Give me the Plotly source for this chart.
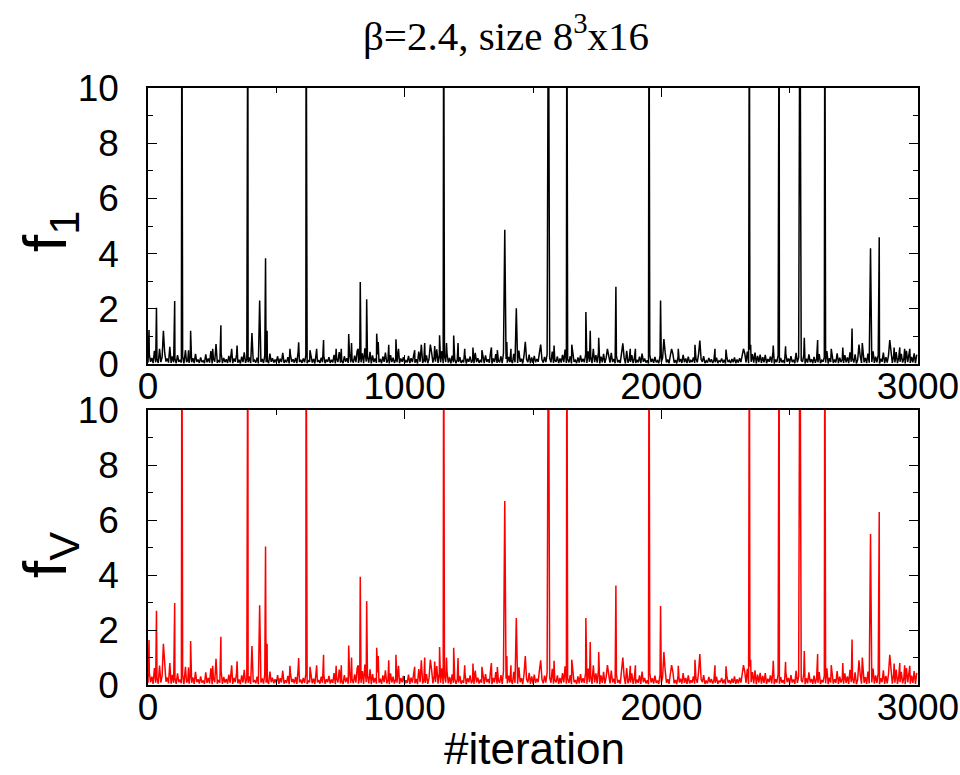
import plotly.graph_objects as go

# ---------------- data ----------------
STEP = 5  # background samples every 5 iterations

f1_background = [
    .05,.35,.08,.22,.03,.48,.06,.18,.04,.55,.07,.25,.03,.41,.09,.2,.05,.62,.04,.28,
    .06,.19,.03,.32,.08,.15,.05,.27,.02,.44,.07,.13,.04,.3,.06,.21,.03,.37,.08,.16,
    .04,.24,.07,.12,.03,.35,.06,.2,.05,.47,.02,.18,.08,.26,.04,.14,.06,.39,.03,.22,
    .07,.17,.04,.29,.06,.51,.03,.2,.08,.33,.05,.15,.02,.27,.07,.42,.04,.19,.06,.24,
    .03,.36,.08,.14,.05,.23,.02,.45,.07,.18,.04,.3,.06,.12,.03,.38,.08,.21,.05,.16,
    .06,.28,.03,.19,.07,.4,.04,.13,.06,.25,.02,.34,.08,.17,.05,.22,.03,.46,.07,.15,
    .04,.2,.06,.31,.03,.12,.08,.26,.05,.18,.02,.37,.07,.14,.04,.23,.06,.29,.03,.16,
    .08,.25,.04,.15,.06,.33,.02,.19,.07,.43,.05,.12,.03,.28,.08,.21,.04,.36,.06,.17,
    .05,.3,.07,.48,.04,.22,.06,.39,.03,.57,.08,.26,.05,.44,.02,.31,.07,.2,.04,.35,
    .06,.18,.03,.27,.08,.41,.05,.14,.02,.32,.07,.23,.04,.16,.06,.38,.03,.2,.08,.25,
    .04,.13,.06,.29,.03,.21,.07,.36,.05,.17,.02,.45,.08,.24,.04,.15,.06,.31,.03,.19,
    .07,.42,.05,.26,.08,.53,.04,.34,.06,.47,.03,.28,.07,.38,.05,.22,.02,.3,.06,.18,
    .03,.16,.07,.25,.04,.12,.06,.33,.02,.19,.08,.27,.05,.14,.03,.4,.07,.21,.04,.15,
    .06,.23,.03,.31,.08,.17,.05,.44,.02,.2,.07,.36,.04,.13,.06,.28,.03,.39,.08,.18,
    .05,.26,.07,.14,.03,.37,.06,.22,.04,.49,.08,.19,.02,.3,.05,.16,.07,.34,.03,.24,
    .04,.29,.06,.18,.08,.41,.03,.15,.05,.26,.07,.35,.02,.2,.06,.45,.04,.13,.08,.27,
    .03,.2,.05,.33,.07,.52,.04,.17,.06,.28,.02,.38,.08,.14,.03,.24,.05,.31,.07,.19,
    .06,.35,.04,.46,.08,.25,.03,.55,.07,.32,.05,.43,.02,.27,.06,.37,.04,.22,.08,.3,
    .05,.4,.07,.18,.03,.29,.06,.14,.04,.36,.08,.23,.02,.48,.05,.17,.07,.32,.03,.21,
    .04,.15,.06,.27,.03,.38,.08,.2,.05,.13,.02,.34,.07,.19,.04,.26,.06,.12,.03,.3,
    .07,.22,.04,.41,.06,.16,.03,.3,.08,.37,.05,.14,.02,.25,.07,.18,.04,.33,.06,.2,
    .03,.27,.05,.13,.07,.24,.04,.19,.06,.35,.02,.16,.08,.28,.03,.12,.05,.22,.07,.17,
    .04,.14,.06,.23,.03,.12,.08,.2,.05,.15,.02,.26,.07,.13,.04,.18,.06,.24,.03,.16,
    .05,.21,.07,.3,.04,.38,.06,.45,.03,.52,.08,.36,.05,.41,.02,.29,.07,.34,.04,.25,
    .06,.33,.03,.18,.08,.27,.05,.44,.02,.16,.07,.31,.04,.22,.06,.14,.03,.37,.08,.2,
    .05,.28,.07,.15,.03,.4,.06,.24,.04,.13,.08,.32,.02,.19,.05,.35,.07,.17,.03,.26,
    .04,.19,.06,.36,.03,.14,.08,.25,.05,.47,.02,.21,.07,.3,.04,.16,.06,.39,.03,.23,
    .07,.17,.04,.32,.06,.24,.03,.42,.08,.2,.05,.35,.02,.15,.07,.28,.04,.5,.06,.22,
    .03,.38,.05,.21,.07,.46,.04,.27,.06,.33,.02,.19,.08,.41,.03,.25,.05,.3,.07,.44,
    .04,.29,.06,.43,.03,.24,.08,.37,.05,.2,.02,.48,.07,.31,.04,.26,.06,.39,.03,.34,
]

fV_background = [
    .07,.46,.1,.3,.04,.62,.08,.24,.05,.71,.09,.33,.04,.53,.12,.27,.06,.8,.05,.37,
    .08,.25,.04,.42,.1,.2,.06,.35,.03,.57,.09,.17,.05,.39,.08,.28,.04,.48,.1,.21,
    .05,.31,.09,.16,.04,.46,.08,.26,.06,.61,.03,.24,.1,.34,.05,.18,.08,.51,.04,.29,
    .09,.22,.05,.38,.08,.66,.04,.26,.1,.43,.06,.2,.03,.35,.09,.55,.05,.25,.08,.31,
    .04,.47,.1,.18,.06,.3,.03,.58,.09,.24,.05,.39,.08,.16,.04,.49,.1,.27,.06,.21,
    .08,.36,.04,.25,.09,.52,.05,.17,.08,.33,.03,.44,.1,.22,.06,.29,.04,.6,.09,.2,
    .05,.26,.08,.4,.04,.16,.1,.34,.06,.23,.03,.48,.09,.18,.05,.3,.08,.38,.04,.21,
    .1,.33,.05,.2,.08,.43,.03,.25,.09,.56,.06,.16,.04,.36,.1,.27,.05,.47,.08,.22,
    .06,.39,.09,.62,.05,.29,.08,.51,.04,.74,.1,.34,.06,.57,.03,.4,.09,.26,.05,.46,
    .08,.23,.04,.35,.1,.53,.06,.18,.03,.42,.09,.3,.05,.21,.08,.49,.04,.26,.1,.33,
    .05,.17,.08,.38,.04,.27,.09,.47,.06,.22,.03,.58,.1,.31,.05,.2,.08,.4,.04,.25,
    .09,.55,.06,.34,.1,.69,.05,.44,.08,.61,.04,.36,.09,.49,.06,.29,.03,.39,.08,.23,
    .04,.21,.09,.33,.05,.16,.08,.43,.03,.25,.1,.35,.06,.18,.04,.52,.09,.27,.05,.2,
    .08,.3,.04,.4,.1,.22,.06,.57,.03,.26,.09,.47,.05,.17,.08,.36,.04,.51,.1,.23,
    .06,.34,.09,.18,.04,.48,.08,.29,.05,.64,.1,.25,.03,.39,.06,.21,.09,.44,.04,.31,
    .05,.38,.08,.23,.1,.53,.04,.2,.06,.34,.09,.46,.03,.26,.08,.59,.05,.17,.1,.35,
    .04,.26,.06,.43,.09,.68,.05,.22,.08,.36,.03,.49,.1,.18,.04,.31,.06,.4,.09,.25,
    .08,.46,.05,.6,.1,.33,.04,.72,.09,.42,.06,.56,.03,.35,.08,.48,.05,.29,.1,.39,
    .06,.52,.09,.23,.04,.38,.08,.18,.05,.47,.1,.3,.03,.62,.06,.22,.09,.42,.04,.27,
    .05,.2,.08,.35,.04,.49,.1,.26,.06,.17,.03,.44,.09,.25,.05,.34,.08,.16,.04,.39,
    .09,.29,.05,.53,.08,.21,.04,.39,.1,.48,.06,.18,.03,.33,.09,.23,.05,.43,.08,.26,
    .04,.35,.06,.17,.09,.31,.05,.25,.08,.46,.03,.21,.1,.36,.04,.16,.06,.29,.09,.22,
    .05,.18,.08,.3,.04,.16,.1,.26,.06,.2,.03,.34,.09,.17,.05,.23,.08,.31,.04,.21,
    .06,.27,.09,.39,.05,.49,.08,.59,.04,.68,.1,.47,.06,.53,.03,.38,.09,.44,.05,.33,
    .08,.43,.04,.23,.1,.35,.06,.57,.03,.21,.09,.4,.05,.29,.08,.18,.04,.48,.1,.26,
    .06,.36,.09,.2,.04,.52,.08,.31,.05,.17,.1,.42,.03,.25,.06,.46,.09,.22,.04,.34,
    .05,.25,.08,.47,.04,.18,.1,.33,.06,.61,.03,.27,.09,.39,.05,.21,.08,.51,.04,.3,
    .09,.22,.05,.42,.08,.31,.04,.55,.1,.26,.06,.46,.03,.2,.09,.36,.05,.65,.08,.29,
    .04,.49,.06,.27,.09,.6,.05,.35,.08,.43,.03,.25,.1,.53,.04,.33,.06,.39,.09,.57,
    .05,.38,.08,.56,.04,.31,.1,.48,.06,.26,.03,.62,.09,.4,.05,.34,.08,.51,.04,.44,
]

# large spikes: iteration, f1 value, fV value (values above 10 run off the top)
spike_iter = [4, 33, 60, 104, 132, 166, 284, 389, 405, 435, 458, 464, 587, 616,
              684, 782, 827, 852, 891, 938, 966, 1136, 1152, 1191, 1390, 1435,
              1470, 1530, 1560, 1632, 1706, 1723, 1756, 1823, 1850, 1952, 1997,
              2010, 2150, 2343, 2459, 2540, 2557, 2609, 2637, 2707, 2743, 2770,
              2815, 2849, 2890]
spike_f1 = [1.23, 2.04, 1.2, 2.28, 15, 1.2, 1.4, 15, 1.12, 2.3, 3.83, 1.2, 0.79, 15,
            0.87, 1.09, 2.97, 2.35, 1.1, 0.7, 0.9, 1.04, 15, 1.03, 4.86, 2.02,
            0.8, 0.7, 15, 15, 1.88, 1.2, 0.95, 2.8, 0.75, 15, 2.3,
            0.9, 0.85, 15, 15, 15, 0.95, 0.87, 15, 0.6, 1.29, 0.7,
            4.19, 4.59, 0.87]
spike_fV = [1.64, 2.7, 1.5, 2.98, 15, 1.6, 1.75, 15, 1.42, 2.9, 5.04, 1.5, 0.98, 15,
            1.1, 1.44, 3.94, 3.05, 1.35, 0.9, 1.1, 1.38, 15, 1.35, 6.69, 2.44,
            1.05, 0.9, 15, 15, 2.44, 1.56, 1.2, 3.62, 1.0, 15, 2.87,
            1.2, 1.13, 15, 15, 15, 1.24, 1.13, 15, 0.8, 1.65, 0.9,
            5.49, 6.29, 1.1]

# smaller spikes standing out of the noise band
minor_iter = [146, 158, 252, 265, 326, 347, 553, 631, 657, 733, 753, 793, 819,
              897, 976, 1039, 1065, 1078, 1100, 1117, 1163, 1208, 1234, 1266,
              1301, 1338, 1361, 1398, 1414, 1582, 1651, 1790, 1879, 1899, 2040,
              2066, 2131, 2209, 2252, 2320, 2348, 2436, 2484, 2662, 2783, 2907,
              2929, 2948, 2968]
minor_f1 = [.5, .5, .55, .72, .55, .67, .55, .5, .55, .55, .55, .76, .55,
            .8, .55, .5, .7, .76, .7, .65, .76, .76, .55, .6,
            .5, .6, .5, .8, .55, .67, .7, .55, .55, .55, .55,
            .55, .7, .55, .52, .55, .7, .67, .64, .55, .76, .6,
            .6, .55, .55]
minor_fV = [.66, .64, .7, .95, .72, .86, .7, .66, .72, .7, .72, 1.0, .72,
            1.05, .7, .66, .9, 1.0, .92, .85, 1.0, .98, .72, .78,
            .66, .8, .65, 1.05, .72, .88, .92, .72, .7, .72, .72,
            .7, .92, .72, .68, .72, .92, .88, .84, .72, 1.0, .78,
            .8, .72, .7]

x_ticks = [0, 1000, 2000, 3000]
y_ticks = [0, 2, 4, 6, 8, 10]


def series(background, spikes, minors):
    pts = {i * STEP: v for i, v in enumerate(background)}
    for it, v in zip(minor_iter, minors):
        pts[it] = v
    for it, v in zip(spike_iter, spikes):
        pts[it] = v
    xs = sorted(pts)
    return xs, [pts[k] for k in xs]


x1, y1 = series(f1_background, spike_f1, minor_f1)
xv, yv = series(fV_background, spike_fV, minor_fV)

# ---------------- figure ----------------
W, H = 960, 775
fig = go.Figure()
fig.add_trace(go.Scatter(x=x1, y=y1, mode="lines", line=dict(color="black", width=1.5),
                         xaxis="x", yaxis="y", showlegend=False, hoverinfo="skip"))
fig.add_trace(go.Scatter(x=xv, y=yv, mode="lines", line=dict(color="#ff0000", width=1.5),
                         xaxis="x2", yaxis="y2", showlegend=False, hoverinfo="skip"))

xl, xr = 148 / W, 918 / W
tick_font = dict(family="Liberation Sans, Arial, sans-serif", size=37, color="black")


def xaxis_cfg(anchor):
    return dict(domain=[xl, xr], anchor=anchor, range=[0, 3000], tickvals=x_ticks,
                ticks="inside", ticklen=9, tickwidth=1.2, tickcolor="black",
                minor=dict(dtick=500, ticks="inside", ticklen=5, tickwidth=1.2,
                           tickcolor="black"),
                showline=True, linecolor="black", linewidth=1.5, mirror="ticks",
                showgrid=False, zeroline=False, tickfont=tick_font,
                ticklabelstandoff=-11, automargin=False)


def yaxis_cfg(anchor, top, bottom):
    return dict(domain=[1 - bottom / H, 1 - top / H], anchor=anchor, range=[0, 10],
                tickvals=y_ticks, ticks="inside", ticklen=9, tickwidth=1.2,
                tickcolor="black",
                minor=dict(dtick=1, ticks="inside", ticklen=5, tickwidth=1.2,
                           tickcolor="black"),
                showline=True, linecolor="black", linewidth=1.5, mirror="ticks",
                showgrid=False, zeroline=False, tickfont=tick_font,
                ticklabelstandoff=20, automargin=False)


fig.update_layout(
    width=W, height=H, margin=dict(l=0, r=0, t=0, b=0, autoexpand=False),
    paper_bgcolor="white", plot_bgcolor="white",
    xaxis=xaxis_cfg("y"), yaxis=yaxis_cfg("x", 88, 364),
    xaxis2=xaxis_cfg("y2"), yaxis2=yaxis_cfg("x2", 410, 685),
)

fig.add_annotation(text="β=2.4, size 8<sup>3</sup>x16", xref="paper", yref="paper",
                   x=506 / W, y=1 - 33 / H, xanchor="center", yanchor="middle",
                   showarrow=False,
                   font=dict(family="Liberation Serif, Times New Roman, serif",
                             size=41, color="black"))
label_font = dict(family="Liberation Sans, Arial, sans-serif", size=62, color="black")
fig.add_annotation(text="f<sub>1</sub>", xref="paper", yref="paper", textangle=-90,
                   x=49 / W, y=1 - 232 / H, xanchor="center", yanchor="middle",
                   showarrow=False, font=label_font)
fig.add_annotation(text="f<sub>V</sub>", xref="paper", yref="paper", textangle=-90,
                   x=49 / W, y=1 - 555 / H, xanchor="center", yanchor="middle",
                   showarrow=False, font=label_font)
fig.add_annotation(text="#iteration", xref="paper", yref="paper",
                   x=534 / W, y=1 - 748 / H, xanchor="center", yanchor="middle",
                   showarrow=False,
                   font=dict(family="Liberation Sans, Arial, sans-serif", size=44,
                             color="black"))

fig.write_html("out.html")
